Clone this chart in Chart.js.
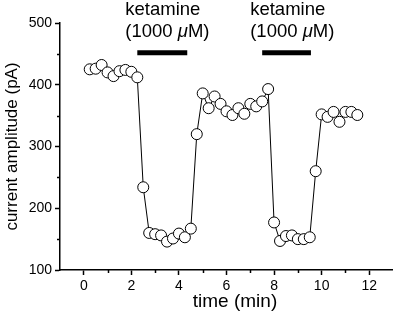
<!DOCTYPE html>
<html><head><meta charset="utf-8">
<script src="https://cdn.jsdelivr.net/npm/chart.js@4/dist/chart.umd.min.js"></script>
<style>html,body{margin:0;padding:0;background:#fff}#wrap{width:393px;height:312px}</style>
</head><body><div id="wrap"><canvas id="c" width="393" height="312"></canvas></div>
<script>
// time (min) of each sample
const times = [0.25,0.5,0.75,1.0,1.25,1.5,1.75,2.0,2.25,2.5,2.75,3.0,3.25,3.5,3.75,4.0,4.25,4.5,4.75,5.0,5.25,5.5,5.75,6.0,6.25,6.5,6.75,7.0,7.25,7.5,7.75,8.0,8.25,8.5,8.75,9.0,9.25,9.5,9.75,10.0,10.25,10.5,10.75,11.0,11.25,11.5];
// current amplitude (pA)
const amplitudes = [425,426,432,420,414,422,424,421,412,234,160,158,156,146,151,159,153,167,320,386,362,381,369,357,351,362,353,369,365,373,393,177,147,155,156,150,150,153,260,352,348,356,340,356,356,351];
// ketamine application periods (min)
const drugStart = [2.25, 7.5];
const drugEnd = [4.35, 9.55];
const drugLevel = 452;
const drugLabel = 'ketamine';
const drugConc = ['(1000 ', '\u03bc', 'M)'];
const xTickValues = [0,2,4,6,8,10,12];
const xMinorTicks = [1,3,5,7,9,11];
const yTickValues = [100,200,300,400,500];
const yMinorTicks = [150,250,350,450];
const xTitle = 'time (min)';
const yTitle = 'current amplitude (pA)';

const FONT = "'Liberation Sans', Arial, Helvetica, sans-serif";

const decor = {
  id: 'decor',
  afterDraw(chart) {
    const ctx = chart.ctx, xs = chart.scales.x, ys = chart.scales.y, area = chart.chartArea;
    ctx.save();
    ctx.strokeStyle = '#000';
    ctx.lineWidth = 1.5;
    // minor ticks
    xMinorTicks.forEach(v => {
      const px = Math.round(xs.getPixelForValue(v)) + 0.5;
      ctx.beginPath(); ctx.moveTo(px, area.bottom); ctx.lineTo(px, area.bottom + 3); ctx.stroke();
    });
    yMinorTicks.forEach(v => {
      const py = Math.round(ys.getPixelForValue(v)) + 0.5;
      ctx.beginPath(); ctx.moveTo(area.left, py); ctx.lineTo(area.left - 3, py); ctx.stroke();
    });
    ctx.fillStyle = '#000';
    ctx.textBaseline = 'alphabetic';
    // x axis title
    ctx.textAlign = 'center';
    ctx.font = '19px ' + FONT;
    ctx.fillText(xTitle, area.left + 175, chart.height - 5);
    // drug labels
    ctx.textAlign = 'left';
    drugStart.forEach((s) => {
      const x0 = xs.getPixelForValue(s) - 12;
      ctx.font = '18.5px ' + FONT;
      ctx.fillText(drugLabel, x0, 15);
      let x = x0;
      drugConc.forEach((part, i) => {
        ctx.font = (i === 1 ? 'italic ' : '') + '18.5px ' + FONT;
        ctx.fillText(part, x, 37);
        x += ctx.measureText(part).width;
      });
    });
    ctx.restore();
  }
};

const datasets = [{
  data: times.map((t, i) => ({x: t, y: amplitudes[i]})),
  showLine: true,
  borderColor: '#000',
  borderWidth: 1,
  pointRadius: 5.5,
  pointBackgroundColor: '#fff',
  pointBorderColor: '#000',
  pointBorderWidth: 1,
  order: 1
}];
drugStart.forEach((s, i) => {
  datasets.push({
    data: [{x: s, y: drugLevel}, {x: drugEnd[i], y: drugLevel}],
    showLine: true,
    borderColor: '#000',
    borderWidth: 5,
    borderCapStyle: 'butt',
    pointRadius: 0,
    order: 2
  });
});

new Chart(document.getElementById('c'), {
  type: 'scatter',
  data: {datasets},
  options: {
    responsive: false,
    animation: false,
    devicePixelRatio: 1,
    clip: false,
    layout: {autoPadding: false, padding: {top: 23, right: 0, left: 0, bottom: 0}},
    plugins: {legend: {display: false}, tooltip: {enabled: false}},
    scales: {
      x: {
        type: 'linear', position: 'bottom', min: -1, max: 13,
        afterBuildTicks: (s) => { s.ticks = xTickValues.map(v => ({value: v})); },
        afterFit: (s) => { s.height = 42; },
        ticks: {autoSkip: false, maxRotation: 0, color: '#000', padding: 3, font: {family: FONT, size: 14}},
        grid: {drawOnChartArea: false, tickLength: 5, tickColor: '#000', tickWidth: 1.5},
        border: {color: '#000', width: 1.5},
        title: {display: false}
      },
      y: {
        type: 'linear', position: 'left', min: 100, max: 500,
        afterBuildTicks: (s) => { s.ticks = yTickValues.map(v => ({value: v})); },
        afterFit: (s) => { s.width = 60; },
        ticks: {autoSkip: false, color: '#000', padding: 3, font: {family: FONT, size: 14}},
        grid: {drawOnChartArea: false, tickLength: 5, tickColor: '#000', tickWidth: 1.5},
        border: {color: '#000', width: 1.5},
        title: {display: true, text: yTitle, color: '#000', font: {family: FONT, size: 17}, padding: {top: 2, bottom: 0}}
      }
    }
  },
  plugins: [decor]
});
</script></body></html>
